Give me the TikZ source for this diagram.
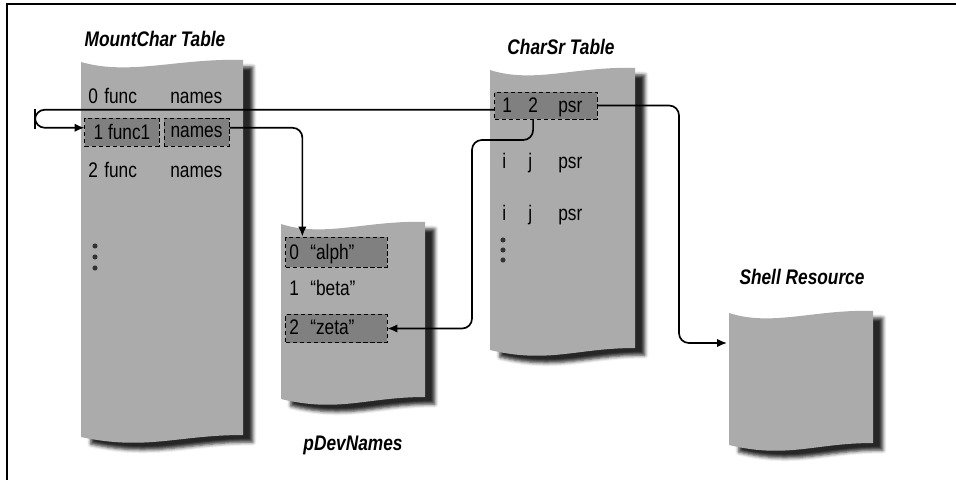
\documentclass[tikz,border=0pt]{standalone}
\usepackage{fontspec}
\setmainfont{Liberation Sans}[FakeStretch=0.82]
\usetikzlibrary{positioning, arrows.meta, shadows.blur}
\newcommand\rowfont{\fontsize{15}{17}\selectfont}
\newcommand\titlefont{\fontsize{15}{17}\selectfont\bfseries\itshape}
\tikzset{
	sheet w/.store in=\sheetw,
	sheet h/.store in=\sheeth,
	sheet w=150, sheet h=300,
	sheet/.pic = {
	 \coordinate (-nw) at (0,0) ;
	 \coordinate (-ne) at (\sheetw,0) ;
	 \fill [black!33, blur shadow={shadow xshift=7pt, shadow yshift=-5pt,
	   shadow opacity=85, shadow blur radius=2.5pt}]
	   (0,0) .. controls ({0.3*\sheetw},14) and ({0.6*\sheetw},-4) .. (\sheetw,-2)
	   -- (\sheetw,{\sheeth-2})
	   .. controls ({0.6*\sheetw},{\sheeth-2}) and ({0.4*\sheetw},{\sheeth+14}) .. (0,\sheeth)
	   -- cycle ;
	 }
	}
\tikzset{
	entry/.style={anchor=base west, inner sep=0pt, font=\rowfont},
	cell/.style={draw, densely dashed, line width=0.7pt, fill=black!50,
	  inner sep=0pt, minimum height=0.7cm, font=\rowfont},
	title/.style={font=\titlefont},
	dot/.style={circle, fill=black!80, inner sep=0pt, minimum size=3.6pt},
	link/.style={line width=1.2pt, rounded corners=7pt, -{Latex[length=7pt, width=6pt]}}
	}

\begin{document}
\begin{tikzpicture}[x=0.025cm, y=-0.025cm]
\useasboundingbox (0,0) rectangle (956,480);

% frame
\draw [line width=1.3pt] (7,480) -- (7,4) -- (956,4);

% SHEETS
\pic (mount) [sheet w=162, sheet h=375] at (81,62) {sheet};
\pic (pdev) [sheet w=144, sheet h=175] at (281,224) {sheet};
\pic (charsr) [sheet w=145, sheet h=280] at (490,70) {sheet};
\pic (shell) [sheet w=144, sheet h=132] at (729,313) {sheet};

% titles
\node (mounttitle) [title] at (155,39) {MountChar Table};
\node (charsrtitle) [title] at (561,47) {CharSr Table};
\node (pdevtitle) [title] at (353,445) {pDevNames};
\node (shelltitle) [title] at (802,277) {Shell Resource};

% MountChar rows
\node (m0i) [entry] at (88,103) {0};
\node (m0f) [entry] at (104,103) {func};
\node (m0n) [entry] at (170,103) {names};
\node (funcbox) [cell, minimum width=1.85cm] at (122,132) {1 func1};
\node (namesbox) [cell, minimum width=1.625cm] at (196.5,132) {names};
\node (m2i) [entry] at (88,177) {2};
\node (m2f) [entry] at (104,177) {func};
\node (m2n) [entry] at (170,177) {names};
\foreach \y [count=\i] in {246,257,268}
	\node (mdot\i) [dot] at (95,\y) {};

% pDevNames rows
\node (alphbox) [cell, minimum width=2.525cm, minimum height=0.75cm] at (336.5,252) {};
\node (zetabox) [cell, minimum width=2.525cm] at (336.5,328.5) {};
\node (p0i) [entry] at (289,259) {0};
\node (p0n) [entry] at (310,259) {“alph”};
\node (p1i) [entry] at (289,295) {1};
\node (p1n) [entry] at (310,295) {“beta”};
\node (p2i) [entry] at (289,334) {2};
\node (p2n) [entry] at (310,334) {“zeta”};

% CharSr rows
\node (srbox) [cell, minimum width=2.55cm, minimum height=0.675cm] at (546,105.5) {};
\node (one) [entry] at (502,112) {1};
\node (two) [entry] at (528,112) {2};
\node (s0p) [entry] at (558,112) {psr};
\node (s1i) [entry] at (502,168) {i};
\node (s1j) [entry] at (528,168) {j};
\node (s1p) [entry] at (558,168) {psr};
\node (s2i) [entry] at (502,220) {i};
\node (s2j) [entry] at (528,220) {j};
\node (s2p) [entry] at (558,220) {psr};
\foreach \y [count=\i] in {240,250,260}
	\node (sdot\i) [dot] at (503,\y) {};

% bends
\coordinate (loop) at (35,119);
\coordinate (bend3) at (472,140);
\coordinate (bend4) at (679,200);
\coordinate (shellin) at (727,343);

%CONNECTIONS
\draw [link] ([yshift=-3pt]srbox.west) -| (loop) |- ([yshift=3pt]funcbox.west);
\draw [link] ([yshift=3pt]namesbox.east) -| ([xshift=12pt]alphbox.north west);
\draw [link] (srbox.south -| two) |- (bend3) |- (zetabox.east);
\draw [link] (srbox.east) -| (bend4) |- (shellin);

\end{tikzpicture}
\end{document}
